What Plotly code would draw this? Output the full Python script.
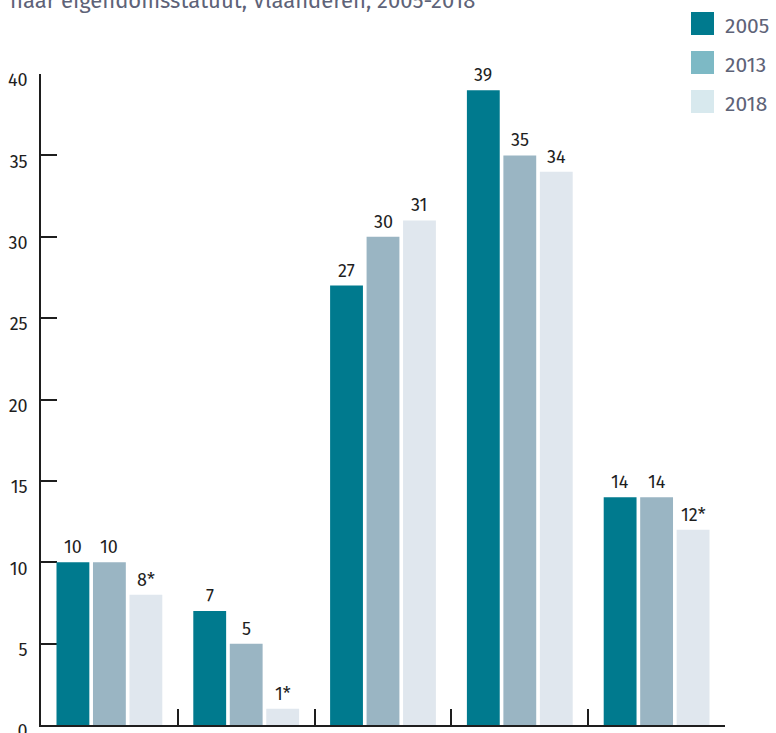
import plotly.graph_objects as go

# Share per ownership status, three survey years
categories = ["c1", "c2", "c3", "c4", "c5"]
years = ["2005", "2013", "2018"]
values_2005 = [10, 7, 27, 39, 14]
values_2013 = [10, 5, 30, 35, 14]
values_2018 = [8, 1, 31, 34, 12]
labels_2005 = ["10", "7", "27", "39", "14"]
labels_2013 = ["10", "5", "30", "35", "14"]
labels_2018 = ["8*", "1*", "31", "34", "12*"]

bar_colors = ["#007A8E", "#9AB5C3", "#E0E7EE"]
legend_colors = ["#007A8E", "#7DB9C5", "#D8E9EE"]
title_text = "naar eigendomsstatuut, Vlaanderen, 2005-2018"

FONT = "Fira Sans, Noto Sans, sans-serif"
INK = "#1E1E1E"
GREY = "#5E6378"
W, H = 776, 733
ML, MR, MT, MB = 41, 51, 74, 8
PW, PH = W - ML - MR, H - MT - MB
BARGAP = 0.2
BARGROUPGAP = 0.1


def px_x(px):
    """Paper x for a pixel column."""
    return (px - ML) / PW


def px_y(py):
    """Paper y for a pixel row measured from the top."""
    return (H - MB - py) / PH


series = [values_2005, values_2013, values_2018]
series_labels = [labels_2005, labels_2013, labels_2018]

fig = go.Figure()
for yr, vals, col in zip(years, series, bar_colors):
    fig.add_trace(go.Bar(x=categories, y=vals, name=yr, marker=dict(color=col, line=dict(width=0)),
                         showlegend=False, hoverinfo="skip"))

# value labels above each bar, placed at the grouped bar centres
slot = (1 - BARGAP) / len(years)
annotations = []
for k, (vals, labs) in enumerate(zip(series, series_labels)):
    off = (k - (len(years) - 1) / 2) * slot
    for i, (v, lab) in enumerate(zip(vals, labs)):
        annotations.append(dict(x=i + off, y=v, xref="x", yref="y", text=lab, showarrow=False,
                                yanchor="bottom", xanchor="center", yshift=2,
                                font=dict(family=FONT, size=18, color=INK)))

# title line (its upper part runs off the top edge)
annotations.append(dict(x=px_x(8), y=px_y(16), xref="paper", yref="paper", text=title_text,
                        showarrow=False, xanchor="left", yanchor="bottom",
                        font=dict(family=FONT, size=22, color=GREY)))

# custom legend swatches on the right
shapes = []
leg_x0 = 691
for k, (yr, col) in enumerate(zip(years, legend_colors)):
    top = 12 + k * 39
    shapes.append(dict(type="rect", xref="paper", yref="paper",
                       x0=px_x(leg_x0), x1=px_x(leg_x0 + 23),
                       y0=px_y(top + 23), y1=px_y(top),
                       fillcolor=col, line=dict(width=0), layer="above"))
    annotations.append(dict(x=px_x(leg_x0 + 32), y=px_y(top + 14), xref="paper", yref="paper",
                            text=yr, showarrow=False, xanchor="left", yanchor="middle",
                            font=dict(family=FONT, size=21, color=GREY)))

fig.update_layout(
    width=W, height=H,
    margin=dict(l=ML, r=MR, t=MT, b=MB, autoexpand=False),
    paper_bgcolor="white", plot_bgcolor="white",
    barmode="group", bargap=BARGAP, bargroupgap=BARGROUPGAP,
    font=dict(family=FONT, color=INK),
    annotations=annotations, shapes=shapes,
    showlegend=False,
    xaxis=dict(type="category", showticklabels=False, showgrid=False, zeroline=False,
               showline=True, linecolor=INK, linewidth=1.5, layer="below traces",
               ticks="inside", tickson="boundaries", ticklen=16, tickwidth=1.5, tickcolor=INK),
    yaxis=dict(range=[0, 40], tickvals=[0, 5, 10, 15, 20, 25, 30, 35, 40], showgrid=False, zeroline=False,
               showline=True, linecolor=INK, linewidth=1.5, layer="below traces",
               ticks="inside", ticklen=16, tickwidth=1.5, tickcolor=INK,
               tickfont=dict(family=FONT, size=18, color=INK), ticklabelstandoff=8, ticklabelshift=6,
               ticklabeloverflow="allow"),
)

fig.write_html("out.html")
